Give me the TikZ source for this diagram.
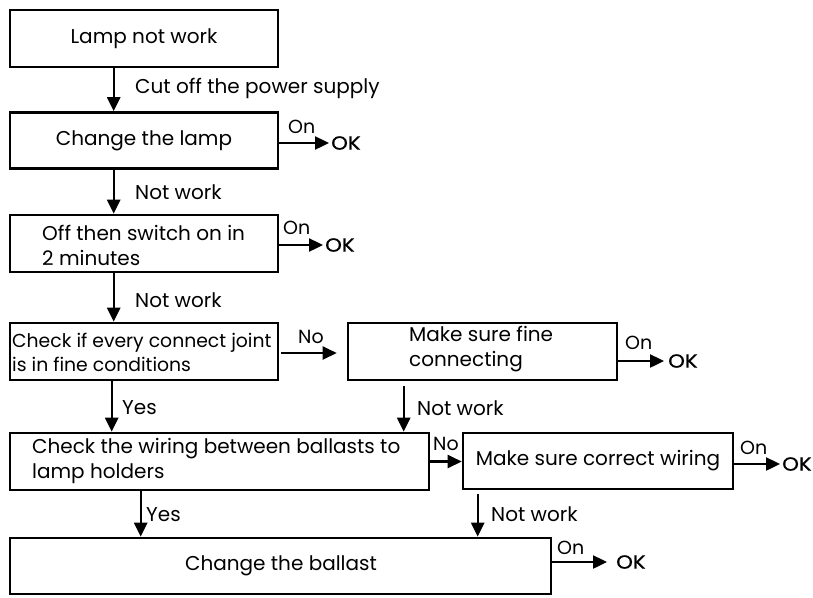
\documentclass[tikz,border=0pt]{standalone}
\usepackage{fontspec}
\setmainfont{Poppins}
\newfontfamily\okfont[FakeStretch=1.12,FakeBold=1]{Poppins}
\usetikzlibrary{arrows.meta,calc}
\begin{document}
\begin{tikzpicture}[x=1pt,y=-1pt,
  box/.style={draw,line width=2.6pt,inner sep=0pt},
  txt/.style={inner sep=0pt,align=left,font=\fontsize{20}{25}\selectfont},
  lbl/.style={inner sep=0pt,anchor=west,font=\fontsize{20}{22}\selectfont},
  onl/.style={inner sep=0pt,anchor=west,font=\fontsize{19}{20}\selectfont},
  okl/.style={inner sep=0pt,anchor=west,font=\okfont\fontsize{19}{20}\selectfont},
  arr/.style={line width=2.4pt,-{Triangle[length=14pt,width=13pt]}}]
\useasboundingbox (0,0) rectangle (813,597);
% boxes
\node[box,minimum width=268pt,minimum height=57pt] (b1) at (144,38.5) {};
\node[box,minimum width=268pt,minimum height=56pt] (b2) at (144,140.5) {};
\node[box,minimum width=268pt,minimum height=57pt] (b3) at (144,243.5) {};
\node[box,minimum width=268pt,minimum height=57pt] (b4) at (144,351.5) {};
\node[box,minimum width=269pt,minimum height=57pt] (b5) at (482.5,351.5) {};
\node[box,minimum width=419pt,minimum height=57pt] (b6) at (219.5,461.5) {};
\node[box,minimum width=270pt,minimum height=56pt] (b7) at (598,461) {};
\node[box,minimum width=541pt,minimum height=56pt] (b8) at (280.5,566) {};
% box texts
\node[txt] (t1) at (144,38.5) {Lamp not work};
\node[txt] (t2) at (144,140.5) {Change the lamp};
\node[txt,anchor=west] (t3) at (42,245.5) {Off then switch on in\\2 minutes};
\node[txt,anchor=west,font=\fontsize{18.8}{24}\selectfont] (t4) at (12,352) {Check if every connect joint\\is in fine conditions};
\node[txt,anchor=west] (t5) at (409,349.5) {Make sure fine\\connecting};
\node[txt,anchor=west] (t6) at (32,460.5) {Check the wiring between ballasts to\\lamp holders};
\node[txt] (t7) at (598,461) {Make sure correct wiring};
\node[txt] (t8) at (281,566) {Change the ballast};
% OK nodes
\node[okl] (ok2) at (331,143) {OK};
\node[okl] (ok3) at (325,245) {OK};
\node[okl] (ok5) at (668,361) {OK};
\node[okl] (ok7) at (782,464) {OK};
\node[okl] (ok8) at (616,562) {OK};
% vertical arrows
\draw[arr] ([xshift=105pt]b1.south west) -- ([xshift=105pt]b2.north west);
\draw[arr] ([xshift=105pt]b2.south west) -- ([xshift=105pt]b3.north west);
\draw[arr] ([xshift=105pt]b3.south west) -- ([xshift=105pt]b4.north west);
\draw[arr] ([xshift=103pt]b4.south west) -- ([xshift=103pt]b6.north west);
\draw[arr,shorten <=5pt] ([xshift=57pt]b5.south west) -- ([xshift=395pt]b6.north west);
\draw[arr] ([xshift=132pt]b6.south west) -- ([xshift=132pt]b8.north west);
\draw[arr,shorten <=4pt] ([xshift=16pt]b7.south west) -- ([xshift=469pt]b8.north west);
% horizontal arrows
\draw[arr] ($(b2.east)+(0,2.5)$) -- ($(ok2.west)+(-2,0)$);
\draw[arr] ($(b3.east)+(0,1.5)$) -- ($(ok3.west)+(-2,0)$);
\draw[arr,shorten >=10pt] ($(b4.east)+(2,1.5)$) -- ($(b5.west)+(0,1.5)$);
\draw[arr] (b5.east |- ok5.west) -- ($(ok5.west)+(-4,0)$);
\draw[arr] (b6.east) -- (b7.west |- b6.east);
\draw[arr] (b7.east |- ok7.west) -- ($(ok7.west)+(-2,0)$);
\draw[arr] (b8.east |- ok8.west) -- ($(ok8.west)+(-9,0)$);
% labels
\node[lbl] (l1) at (135,88) {Cut off the power supply};
\node[lbl] (l2) at (135,192) {Not work};
\node[lbl] (l3) at (135,300) {Not work};
\node[lbl] (l4) at (122,408) {Yes};
\node[lbl] (l5) at (417,408) {Not work};
\node[lbl] (l6) at (146,515) {Yes};
\node[lbl] (l7) at (491,514) {Not work};
\node[onl] (n1) at (298,337) {No};
\node[onl] (n2) at (433,444) {No};
\node[onl] (o2) at (288,127) {On};
\node[onl] (o3) at (283,228) {On};
\node[onl] (o5) at (625,343) {On};
\node[onl] (o7) at (740,448) {On};
\node[onl] (o8) at (557,548) {On};
\end{tikzpicture}
\end{document}
